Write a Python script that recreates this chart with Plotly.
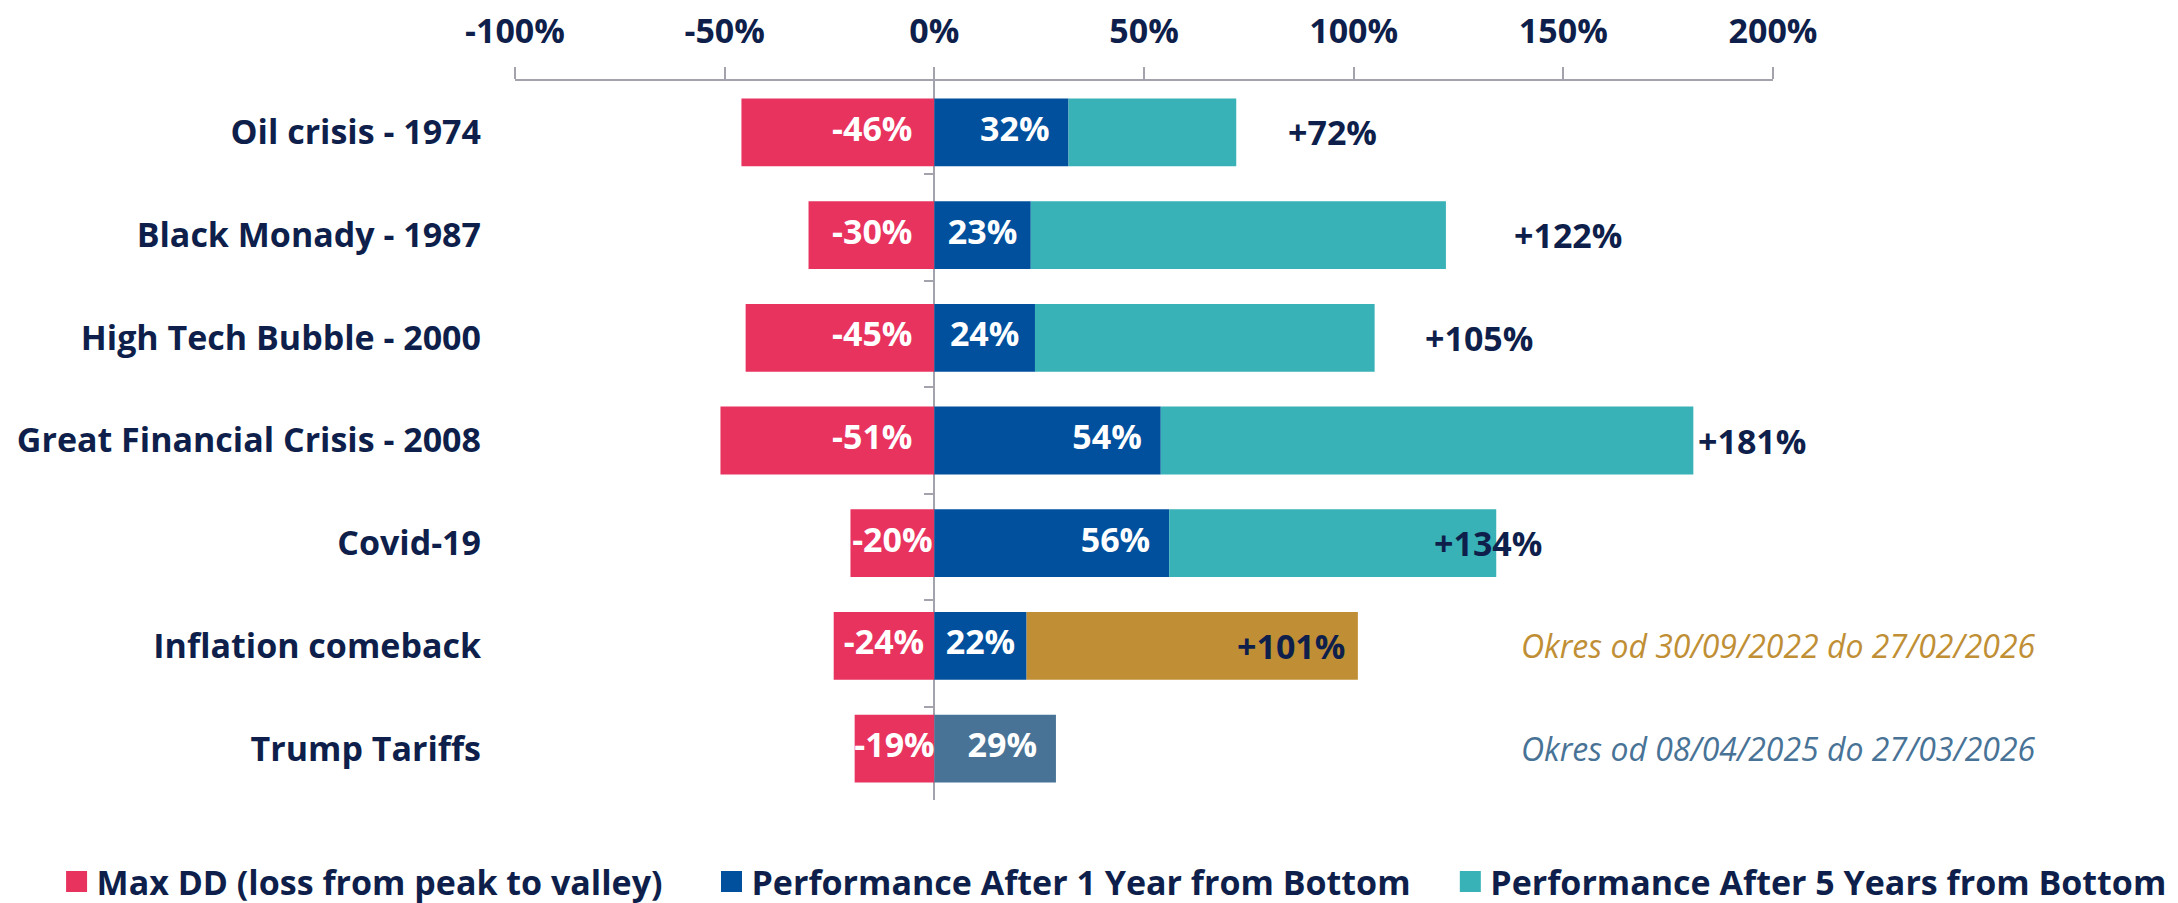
import plotly.graph_objects as go

# Data (percent)
categories = [
    "Oil crisis - 1974",
    "Black Monady - 1987",
    "High Tech Bubble - 2000",
    "Great Financial Crisis - 2008",
    "Covid-19",
    "Inflation comeback",
    "Trump Tariffs",
]
max_dd = [-46, -30, -45, -51, -20, -24, -19]
perf_1y = [32, 23, 24, 54, 56, 22, 29]
perf_total = [72, 122, 105, 181, 134, 101, None]
# label nudges for the total labels (in %-points)
total_label_nudge = [23, 29, 25, 14, -2, -16, 0]

notes = {
    "Inflation comeback": "Okres od 30/09/2022 do 27/02/2026",
    "Trump Tariffs": "Okres od 08/04/2025 do 27/03/2026",
}

series_names = [
    "Max DD (loss from peak to valley)",
    "Performance After 1 Year from Bottom",
    "Performance After 5 Years from Bottom",
]

x_ticks = [-100, -50, 0, 50, 100, 150, 200]

# Colours
RED = "#E8335F"
NAVY = "#00509E"
TEAL = "#38B2B7"
GOLD = "#C08F35"
STEEL = "#487396"
TEXT = "#0F1F4B"
GRID = "#A3A3AD"
FONT = "Open Sans"
FS = 34

perf_5y = [None if t is None else t - p for t, p in zip(perf_total, perf_1y)]
c_1y = [STEEL if c == "Trump Tariffs" else NAVY for c in categories]
c_5y = [GOLD if c == "Inflation comeback" else TEAL for c in categories]

# label placement: near the base/tip with padding, centred when the bar is short
RED_OFF = 0.148
BLUE_OFF = 0.128
red_lbl_x = [max(v / 200, -RED_OFF) for v in max_dd]
blue_lbl_x = [max(v / 200, v / 100 - BLUE_OFF) for v in perf_1y]

fig = go.Figure()
fig.add_trace(go.Bar(
    y=categories, x=[v / 100 for v in max_dd], orientation="h",
    marker=dict(color=RED, line_width=0), showlegend=False, textposition="none",
))
fig.add_trace(go.Bar(
    y=categories, x=[v / 100 for v in perf_1y], orientation="h",
    marker=dict(color=c_1y, line_width=0), showlegend=False, textposition="none",
))
fig.add_trace(go.Bar(
    y=categories, x=[None if v is None else v / 100 for v in perf_5y], orientation="h",
    marker=dict(color=c_5y, line_width=0), showlegend=False, textposition="none",
))

# in-bar labels
fig.add_trace(go.Scatter(
    x=red_lbl_x, y=categories, mode="text", text=[f"{v}%" for v in max_dd],
    textposition="middle center", showlegend=False, hoverinfo="skip", cliponaxis=False,
    textfont=dict(family=FONT, size=FS, color="white", weight="bold"),
))
fig.add_trace(go.Scatter(
    x=blue_lbl_x, y=categories, mode="text", text=[f"{v}%" for v in perf_1y],
    textposition="middle center", showlegend=False, hoverinfo="skip", cliponaxis=False,
    textfont=dict(family=FONT, size=FS, color="white", weight="bold"),
))

# invisible helper for the little category ticks on the zero line
fig.add_trace(go.Scatter(
    x=[0] * len(categories), y=categories, yaxis="y2", mode="markers",
    marker=dict(opacity=0), showlegend=False, hoverinfo="skip",
))

# legend entries (square swatches), one legend box per series
legend_ids = ["legend", "legend2", "legend3"]
legend_x = [-0.3644, 0.1562, 0.7435]
for name, col, lid in zip(series_names, [RED, NAVY, TEAL], legend_ids):
    fig.add_trace(go.Scatter(
        x=[None], y=[None], mode="markers", name=name, legend=lid,
        marker=dict(symbol="square", size=16, color=col, line=dict(color=col, width=5)),
    ))

for cat, tot, nudge in zip(categories, perf_total, total_label_nudge):
    if tot is None:
        continue
    fig.add_annotation(
        x=(tot + nudge) / 100, y=cat, text=f"+{tot}%", showarrow=False,
        xanchor="center", yanchor="middle",
        font=dict(family=FONT, size=FS, color=TEXT, weight="bold"),
    )

note_colors = {"Inflation comeback": GOLD, "Trump Tariffs": STEEL}
for cat, txt in notes.items():
    fig.add_annotation(
        x=1.395, y=cat, text=txt, showarrow=False, xanchor="left", yanchor="middle",
        font=dict(family=FONT, size=32, color=note_colors[cat], style="italic"),
    )

legend_style = dict(
    orientation="h", xanchor="left", y=-0.114, yanchor="middle",
    font=dict(family=FONT, size=FS, color=TEXT, weight="bold"),
    itemsizing="trace", bgcolor="rgba(0,0,0,0)",
)

# page body adds an 8px offset, so the figure is 8px smaller on each axis
fig.update_layout(
    width=2170, height=895,
    margin=dict(l=507, r=405, t=73, b=103, autoexpand=False),
    barmode="relative", bargap=0.34,
    plot_bgcolor="white", paper_bgcolor="white",
    font=dict(family=FONT, size=FS, color=TEXT),
    showlegend=True,
    legend=dict(x=legend_x[0], **legend_style),
    legend2=dict(x=legend_x[1], **legend_style),
    legend3=dict(x=legend_x[2], **legend_style),
    xaxis=dict(
        side="top", range=[-1, 2], tickvals=[v / 100 for v in x_ticks],
        ticktext=[f"{v}%" for v in x_ticks],
        showgrid=False, showline=True, linecolor=GRID, linewidth=2,
        ticks="outside", ticklen=12, tickcolor=GRID, tickwidth=1.5,
        zeroline=True, zerolinecolor=GRID, zerolinewidth=1.5,
        tickfont=dict(family=FONT, size=FS, color=TEXT, weight="bold"),
        ticklabelstandoff=10,
    ),
    yaxis=dict(
        categoryorder="array", categoryarray=categories, autorange="reversed",
        showgrid=False, showline=False, ticks="", ticklabelstandoff=33,
        tickfont=dict(family=FONT, size=FS, color=TEXT, weight="bold"),
    ),
    yaxis2=dict(
        overlaying="y", anchor="free", position=1 / 3, side="left",
        type="category", categoryorder="array", categoryarray=categories,
        autorange="reversed", tickson="boundaries", ticks="outside", ticklen=10,
        tickcolor=GRID, tickwidth=1.5, showticklabels=False, showgrid=False,
        showline=False, zeroline=False,
    ),
)

fig.write_html("out.html")
